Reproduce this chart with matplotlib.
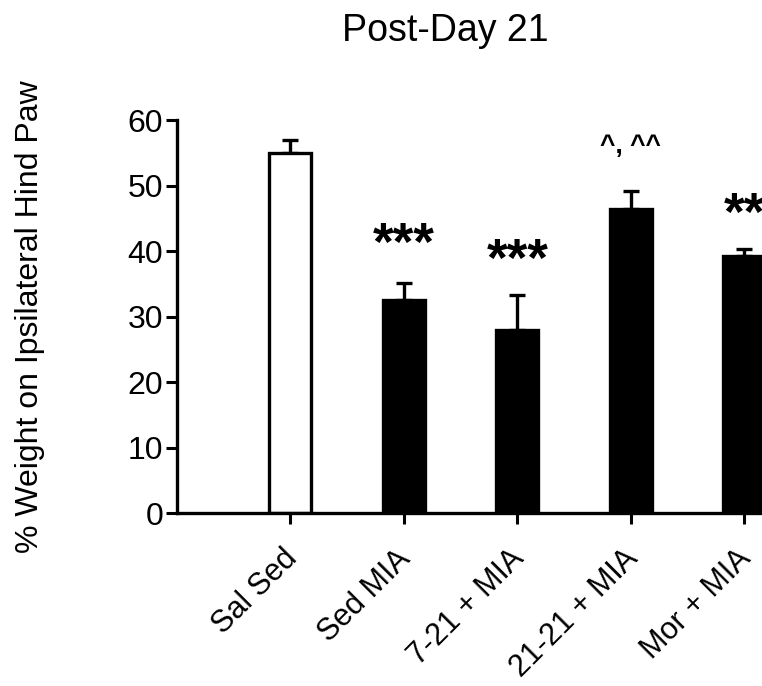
"""
Post-Day 21 weight bearing bar chart.
Run: python plot.py
"""

import matplotlib
matplotlib.use("Agg")
import matplotlib.pyplot as plt

groups = ["Sal Sed", "Sed MIA", "7-21 + MIA", "21-21 + MIA", "Mor + MIA"]
means = [55.0, 32.5, 27.9, 46.4, 39.2]
sems = [2.0, 2.7, 5.4, 2.8, 1.1]
fills = ["white", "black", "black", "black", "black"]
marks = ["", "***", "***", "^, ^^", "**"]
mark_y = [0, 38.6, 36.2, 56.1, 43.2]

plt.rcParams["font.family"] = ["Liberation Sans", "DejaVu Sans"]


def plot_weight_bearing() -> None:
    fig = plt.figure(figsize=(7.62, 6.86), dpi=100)
    ax = fig.add_axes([0.2323, 0.252, 0.7677, 0.573])
    x = list(range(1, len(groups) + 1))
    ax.bar(x, means, width=0.37, color=fills, edgecolor="black", linewidth=2.4, zorder=2)
    ax.errorbar(x, means, yerr=[[0] * len(sems), sems], fmt="none", ecolor="black",
                elinewidth=2.4, capsize=5.5, capthick=2.4, zorder=1)
    for xi, m, my in zip(x, marks, mark_y):
        if not m:
            continue
        if m.startswith("^"):
            ax.text(xi, my, m, ha="center", va="center", fontsize=19, fontweight="bold")
        else:
            ax.text(xi, my, m, ha="center", va="baseline", fontsize=38, fontweight="bold",
                    clip_on=False)

    ax.set_xlim(0, 5.155)
    ax.set_ylim(0, 60)
    ax.set_yticks(range(0, 61, 10))
    ax.set_xticks(x)
    ax.set_xticklabels([])
    # slanted group labels, placed by hand so they sit down-left of the ticks
    for xi, name in zip(x, groups):
        ax.annotate(name, xy=(xi, 0), xycoords=("data", "axes fraction"),
                    xytext=(-6, -22), textcoords="offset points",
                    rotation=45, rotation_mode="anchor", ha="right", va="top",
                    fontsize=22, annotation_clip=False)
    ax.tick_params(axis="y", labelsize=23, width=2.2, length=8, pad=2)
    ax.tick_params(axis="x", width=2.2, length=8)
    for side in ["top", "right"]:
        ax.spines[side].set_visible(False)
    for side in ["left", "bottom"]:
        ax.spines[side].set_linewidth(2.4)
    ax.set_ylabel("% Weight on Ipsilateral Hind Paw", fontsize=23)
    ax.yaxis.set_label_coords(-0.225, 0.5)
    fig.text(0.584, 0.955, "Post-Day 21", ha="center", va="center", fontsize=27)
    fig.savefig("out.png", dpi=100)
    plt.close(fig)


if __name__ == "__main__":
    plot_weight_bearing()
